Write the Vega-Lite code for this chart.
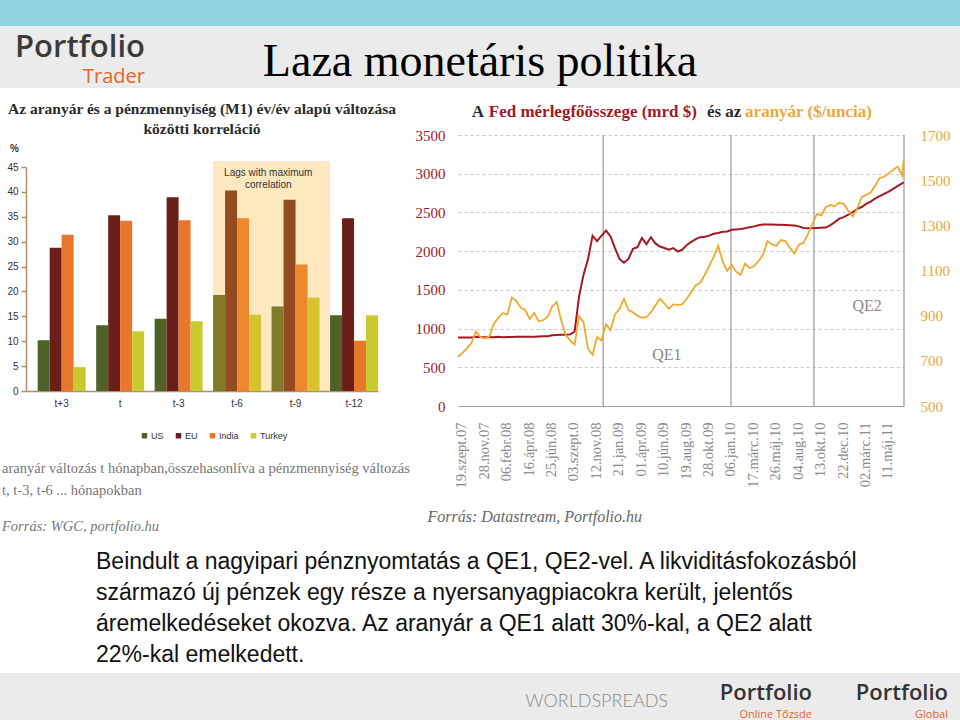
{
  "$schema": "https://vega.github.io/schema/vega-lite/v6.json",
  "padding": 0,
  "spacing": 0,
  "background": "white",
  "resolve": {"scale": {"color": "independent"}},
  "config": {
    "view": {"stroke": null},
    "font": "Liberation Sans",
    "axis": {"labelFont": "Liberation Sans", "titleFont": "Liberation Sans"}
  },
  "vconcat": [
    {
      "width": 960, "height": 26,
      "data": {"values": [{}]},
      "mark": {"type": "point", "opacity": 0},
      "view": {"fill": "#8dd4df", "stroke": null}
    },
    {
      "spacing": 0, "bounds": "flush",
      "hconcat": [
        {
          "width": 145, "height": 62,
          "data": {"values": [{}]},
          "mark": {"type": "point", "opacity": 0},
          "view": {"fill": "#ebebeb", "stroke": null},
          "title": {"text": "Portfolio", "subtitle": "Trader", "orient": "top", "anchor": "end", "frame": "group", "offset": -62, "font": "Open Sans", "fontSize": 31, "fontWeight": 600, "color": "#3a3a3a", "subtitleFont": "Open Sans", "subtitleFontSize": 20, "subtitleColor": "#e2662f", "subtitlePadding": 3}
        },
        {
          "width": 670, "height": 62,
          "data": {"values": [{}]},
          "mark": {"type": "point", "opacity": 0},
          "view": {"fill": "#ebebeb", "stroke": null},
          "title": {"text": "Laza monetáris politika", "orient": "top", "anchor": "middle", "frame": "group", "offset": -60, "font": "Liberation Serif", "fontSize": 46, "fontWeight": "normal", "color": "#000000"}
        },
        {
          "width": 145, "height": 62,
          "data": {"values": [{}]},
          "mark": {"type": "point", "opacity": 0},
          "view": {"fill": "#ebebeb", "stroke": null}
        }
      ]
    },
    {
      "spacing": 0, "bounds": "flush",
      "resolve": {"scale": {"color": "independent"}},
      "hconcat": [
        {
          "width": 26, "height": 452,
          "data": {"values": [{}]},
          "mark": {"type": "point", "opacity": 0},
          "title": {"text": ["aranyár változás t hónapban,összehasonlíva a pénzmennyiség változás", "t, t-3, t-6 ... hónapokban"], "subtitle": "Forrás: WGC, portfolio.hu", "orient": "top", "anchor": "start", "frame": "group", "offset": -443, "dx": 2, "font": "Liberation Serif", "fontSize": 14.5, "fontWeight": "normal", "color": "#777777", "lineHeight": 22, "subtitleFont": "Liberation Serif", "subtitleFontSize": 14.5, "subtitleFontStyle": "italic", "subtitleColor": "#777777", "subtitlePadding": 21}
        },
        {
          "width": 352, "height": 300,
          "title": {"text": ["Az aranyár és a pénzmennyiség (M1) év/év alapú változása", "közötti korreláció"], "orient": "top", "anchor": "middle", "frame": "group", "offset": -46, "font": "Liberation Serif", "fontSize": 15.5, "fontWeight": "bold", "color": "#2b2b2b", "lineHeight": 20},
          "data": {"values": [
            {"lag": "t+3", "country": "US", "value": 10.2}, {"lag": "t+3", "country": "EU", "value": 28.8}, {"lag": "t+3", "country": "India", "value": 31.4}, {"lag": "t+3", "country": "Turkey", "value": 4.8},
            {"lag": "t", "country": "US", "value": 13.2}, {"lag": "t", "country": "EU", "value": 35.3}, {"lag": "t", "country": "India", "value": 34.2}, {"lag": "t", "country": "Turkey", "value": 12.0},
            {"lag": "t-3", "country": "US", "value": 14.5}, {"lag": "t-3", "country": "EU", "value": 38.9}, {"lag": "t-3", "country": "India", "value": 34.3}, {"lag": "t-3", "country": "Turkey", "value": 14.0},
            {"lag": "t-6", "country": "US", "value": 19.3}, {"lag": "t-6", "country": "EU", "value": 40.3}, {"lag": "t-6", "country": "India", "value": 34.7}, {"lag": "t-6", "country": "Turkey", "value": 15.3},
            {"lag": "t-9", "country": "US", "value": 17.0}, {"lag": "t-9", "country": "EU", "value": 38.4}, {"lag": "t-9", "country": "India", "value": 25.4}, {"lag": "t-9", "country": "Turkey", "value": 18.8},
            {"lag": "t-12", "country": "US", "value": 15.2}, {"lag": "t-12", "country": "EU", "value": 34.7}, {"lag": "t-12", "country": "India", "value": 10.1}, {"lag": "t-12", "country": "Turkey", "value": 15.2}
          ]},
          "encoding": {
            "x": {"field": "lag", "type": "nominal", "sort": ["t+3", "t", "t-3", "t-6", "t-9", "t-12"],
              "scale": {"paddingInner": 0.18, "paddingOuter": 0.1, "align": 1},
              "axis": {"title": null, "labelAngle": 0, "ticks": false, "labelFontSize": 10, "labelColor": "#333333", "labelPadding": 7, "domainColor": "#b58e6a", "domainWidth": 1.5}}
          },
          "layer": [
            {
              "mark": {"type": "bar"},
              "encoding": {
                "xOffset": {"field": "country", "type": "nominal", "sort": ["US", "EU", "India", "Turkey"]},
                "y": {"field": "value", "type": "quantitative", "scale": {"domain": [0, 45], "range": [300, 76]},
                  "axis": {"values": [0, 5, 10, 15, 20, 25, 30, 35, 40, 45], "labelOverlap": false, "grid": false, "title": "%", "titleAngle": 0, "titleX": -12, "titleY": 60, "titleAlign": "center", "titleBaseline": "alphabetic", "titleFontSize": 10, "titleFontWeight": "bold", "titleColor": "#333333", "labelFontSize": 10, "labelColor": "#333333", "labelPadding": 3, "tickColor": "#b58e6a", "tickSize": 5, "tickWidth": 1.5, "domainColor": "#b58e6a", "domainWidth": 1.5}},
                "color": {"field": "country", "type": "nominal",
                  "scale": {"domain": ["US", "EU", "India", "Turkey"], "range": ["#4e6228", "#6a1f1b", "#e8762b", "#c8cb2e"]},
                  "legend": {"orient": "none", "legendX": 114, "legendY": 340, "direction": "horizontal", "title": null, "symbolType": "square", "symbolSize": 30, "labelFontSize": 9, "labelColor": "#333333", "labelOffset": 2, "columnPadding": 10}}
              }
            },
            {
              "data": {"values": [{}]},
              "mark": {"type": "rect", "color": "#f8b22d", "opacity": 0.3},
              "encoding": {
                "x": {"datum": "t-6", "type": "nominal", "bandPosition": 0},
                "x2": {"datum": "t-12", "bandPosition": 0},
                "y": {"datum": 46.2, "type": "quantitative",
                  "axis": {"values": [0, 5, 10, 15, 20, 25, 30, 35, 40, 45], "labelOverlap": false, "grid": false, "title": "%", "titleAngle": 0, "titleX": -12, "titleY": 60, "titleAlign": "center", "titleBaseline": "alphabetic", "titleFontSize": 10, "titleFontWeight": "bold", "titleColor": "#333333", "labelFontSize": 10, "labelColor": "#333333", "labelPadding": 3, "tickColor": "#b58e6a", "tickSize": 5, "tickWidth": 1.5, "domainColor": "#b58e6a", "domainWidth": 1.5}},
                "y2": {"datum": 0}
              }
            },
            {
              "data": {"values": [{}]},
              "mark": {"type": "text", "text": ["Lags with maximum", "correlation"], "font": "Liberation Sans", "fontSize": 10, "color": "#333333", "align": "center", "baseline": "top", "lineHeight": 12},
              "encoding": {
                "x": {"datum": "t-6", "type": "nominal", "bandPosition": 1.15},
                "y": {"datum": 44.8, "type": "quantitative",
                  "axis": {"values": [0, 5, 10, 15, 20, 25, 30, 35, 40, 45], "labelOverlap": false, "grid": false, "title": "%", "titleAngle": 0, "titleX": -12, "titleY": 60, "titleAlign": "center", "titleBaseline": "alphabetic", "titleFontSize": 10, "titleFontWeight": "bold", "titleColor": "#333333", "labelFontSize": 10, "labelColor": "#333333", "labelPadding": 3, "tickColor": "#b58e6a", "tickSize": 5, "tickWidth": 1.5, "domainColor": "#b58e6a", "domainWidth": 1.5}}
              }
            }
          ]
        },
        {
          "width": 80, "height": 1,
          "data": {"values": [{}]},
          "mark": {"type": "point", "opacity": 0}
        },
        {
          "width": 446, "height": 315,
          "data": {"values": [
            {"d": "2007-09-07", "fed": 885, "gold": 718}, {"d": "2007-09-21", "fed": 885, "gold": 735}, {"d": "2007-10-05", "fed": 885, "gold": 755}, {"d": "2007-10-19", "fed": 885, "gold": 780},
            {"d": "2007-11-02", "fed": 895, "gold": 830}, {"d": "2007-11-16", "fed": 890, "gold": 805}, {"d": "2007-11-30", "fed": 888, "gold": 800}, {"d": "2007-12-14", "fed": 890, "gold": 808},
            {"d": "2007-12-28", "fed": 888, "gold": 865}, {"d": "2008-01-11", "fed": 895, "gold": 890}, {"d": "2008-01-25", "fed": 888, "gold": 912}, {"d": "2008-02-08", "fed": 890, "gold": 905},
            {"d": "2008-02-22", "fed": 892, "gold": 980}, {"d": "2008-03-07", "fed": 893, "gold": 965}, {"d": "2008-03-21", "fed": 893, "gold": 935}, {"d": "2008-04-04", "fed": 895, "gold": 925},
            {"d": "2008-04-18", "fed": 893, "gold": 885}, {"d": "2008-05-02", "fed": 895, "gold": 912}, {"d": "2008-05-16", "fed": 897, "gold": 875}, {"d": "2008-05-30", "fed": 900, "gold": 880},
            {"d": "2008-06-13", "fed": 902, "gold": 895}, {"d": "2008-06-27", "fed": 915, "gold": 940}, {"d": "2008-07-11", "fed": 918, "gold": 960}, {"d": "2008-07-25", "fed": 920, "gold": 880},
            {"d": "2008-08-08", "fed": 920, "gold": 815}, {"d": "2008-08-22", "fed": 925, "gold": 790}, {"d": "2008-09-05", "fed": 960, "gold": 772}, {"d": "2008-09-19", "fed": 1420, "gold": 898},
            {"d": "2008-10-03", "fed": 1700, "gold": 870}, {"d": "2008-10-17", "fed": 1900, "gold": 752}, {"d": "2008-10-31", "fed": 2200, "gold": 727}, {"d": "2008-11-14", "fed": 2130, "gold": 805},
            {"d": "2008-11-28", "fed": 2200, "gold": 790}, {"d": "2008-12-12", "fed": 2265, "gold": 862}, {"d": "2008-12-26", "fed": 2190, "gold": 835}, {"d": "2009-01-09", "fed": 2040, "gold": 905},
            {"d": "2009-01-23", "fed": 1900, "gold": 930}, {"d": "2009-02-06", "fed": 1850, "gold": 975}, {"d": "2009-02-20", "fed": 1900, "gold": 925}, {"d": "2009-03-06", "fed": 2030, "gold": 915},
            {"d": "2009-03-20", "fed": 2050, "gold": 900}, {"d": "2009-04-03", "fed": 2170, "gold": 890}, {"d": "2009-04-17", "fed": 2090, "gold": 893}, {"d": "2009-05-01", "fed": 2180, "gold": 915},
            {"d": "2009-05-15", "fed": 2100, "gold": 945}, {"d": "2009-05-29", "fed": 2060, "gold": 975}, {"d": "2009-06-12", "fed": 2040, "gold": 955}, {"d": "2009-06-26", "fed": 2020, "gold": 930},
            {"d": "2009-07-10", "fed": 2040, "gold": 950}, {"d": "2009-07-24", "fed": 1995, "gold": 948}, {"d": "2009-08-07", "fed": 2020, "gold": 950}, {"d": "2009-08-21", "fed": 2080, "gold": 975},
            {"d": "2009-09-04", "fed": 2120, "gold": 1005}, {"d": "2009-09-18", "fed": 2155, "gold": 1035}, {"d": "2009-10-02", "fed": 2180, "gold": 1045}, {"d": "2009-10-16", "fed": 2185, "gold": 1080},
            {"d": "2009-10-30", "fed": 2200, "gold": 1120}, {"d": "2009-11-13", "fed": 2225, "gold": 1160}, {"d": "2009-11-27", "fed": 2235, "gold": 1210}, {"d": "2009-12-11", "fed": 2250, "gold": 1140},
            {"d": "2009-12-25", "fed": 2255, "gold": 1098}, {"d": "2010-01-08", "fed": 2275, "gold": 1125}, {"d": "2010-01-22", "fed": 2280, "gold": 1095}, {"d": "2010-02-05", "fed": 2285, "gold": 1081},
            {"d": "2010-02-19", "fed": 2295, "gold": 1130}, {"d": "2010-03-05", "fed": 2310, "gold": 1110}, {"d": "2010-03-19", "fed": 2320, "gold": 1120}, {"d": "2010-04-02", "fed": 2335, "gold": 1142},
            {"d": "2010-04-16", "fed": 2345, "gold": 1170}, {"d": "2010-04-30", "fed": 2345, "gold": 1230}, {"d": "2010-05-14", "fed": 2345, "gold": 1215}, {"d": "2010-05-28", "fed": 2342, "gold": 1210},
            {"d": "2010-06-11", "fed": 2340, "gold": 1235}, {"d": "2010-06-25", "fed": 2338, "gold": 1230}, {"d": "2010-07-09", "fed": 2335, "gold": 1200}, {"d": "2010-07-23", "fed": 2330, "gold": 1175},
            {"d": "2010-08-06", "fed": 2320, "gold": 1215}, {"d": "2010-08-20", "fed": 2300, "gold": 1222}, {"d": "2010-09-03", "fed": 2295, "gold": 1260}, {"d": "2010-09-17", "fed": 2295, "gold": 1305},
            {"d": "2010-10-01", "fed": 2300, "gold": 1350}, {"d": "2010-10-15", "fed": 2303, "gold": 1345}, {"d": "2010-10-29", "fed": 2305, "gold": 1380}, {"d": "2010-11-12", "fed": 2335, "gold": 1390},
            {"d": "2010-11-26", "fed": 2375, "gold": 1385}, {"d": "2010-12-10", "fed": 2420, "gold": 1400}, {"d": "2010-12-24", "fed": 2440, "gold": 1395}, {"d": "2011-01-07", "fed": 2470, "gold": 1365},
            {"d": "2011-01-21", "fed": 2505, "gold": 1340}, {"d": "2011-02-04", "fed": 2545, "gold": 1375}, {"d": "2011-02-18", "fed": 2570, "gold": 1425}, {"d": "2011-03-04", "fed": 2610, "gold": 1435},
            {"d": "2011-03-18", "fed": 2640, "gold": 1445}, {"d": "2011-04-01", "fed": 2680, "gold": 1475}, {"d": "2011-04-15", "fed": 2710, "gold": 1510}, {"d": "2011-04-29", "fed": 2740, "gold": 1515},
            {"d": "2011-05-13", "fed": 2770, "gold": 1530}, {"d": "2011-05-27", "fed": 2805, "gold": 1545}, {"d": "2011-06-10", "fed": 2840, "gold": 1560}, {"d": "2011-06-24", "fed": 2875, "gold": 1520},
            {"d": "2011-06-29", "fed": 2890, "gold": 1590}
          ]},
          "encoding": {
            "x": {"field": "d", "type": "temporal",
              "scale": {"domain": [{"year": 2007, "month": 9, "date": 7}, {"year": 2011, "month": 6, "date": 30}]},
              "axis": {
                "values": [
                  {"year": 2007, "month": 9, "date": 19}, {"year": 2007, "month": 11, "date": 28}, {"year": 2008, "month": 2, "date": 6}, {"year": 2008, "month": 4, "date": 16},
                  {"year": 2008, "month": 6, "date": 25}, {"year": 2008, "month": 9, "date": 3}, {"year": 2008, "month": 11, "date": 12}, {"year": 2009, "month": 1, "date": 21},
                  {"year": 2009, "month": 4, "date": 1}, {"year": 2009, "month": 6, "date": 10}, {"year": 2009, "month": 8, "date": 19}, {"year": 2009, "month": 10, "date": 28},
                  {"year": 2010, "month": 1, "date": 6}, {"year": 2010, "month": 3, "date": 17}, {"year": 2010, "month": 5, "date": 26}, {"year": 2010, "month": 8, "date": 4},
                  {"year": 2010, "month": 10, "date": 13}, {"year": 2010, "month": 12, "date": 22}, {"year": 2011, "month": 3, "date": 2}, {"year": 2011, "month": 5, "date": 11}
                ],
                "labelExpr": "replace(timeFormat(datum.value, '%d') + '.' + ['jan','febr','márc','ápr','máj','jún','júl','aug','szept','okt','nov','dec'][month(datum.value)] + '.' + timeFormat(datum.value, '%y'), '03.szept.08', '03.szept.0')",
                "labelAngle": -90, "labelAlign": "right", "labelBaseline": "middle", "labelPadding": 16,
                "labelFont": "Liberation Serif", "labelFontSize": 14.5, "labelColor": "#8a8a8a", "labelOverlap": false, "labelFlush": false,
                "ticks": false, "grid": false, "domainColor": "#a0a0a0", "domainWidth": 1.2,
                "title": "Forrás: Datastream, Portfolio.hu", "titleFont": "Liberation Serif", "titleFontStyle": "italic", "titleFontWeight": "normal", "titleFontSize": 16, "titleColor": "#666666",
                "titleAnchor": "start", "titleAlign": "left", "titleX": -31, "titleY": 115, "titleBaseline": "alphabetic"
              }
            }
          },
          "layer": [
            {
              "data": {"values": [{"d": "2008-12-03"}, {"d": "2010-01-06"}, {"d": "2010-09-22"}, {"d": "2011-06-30"}]},
              "mark": {"type": "rule", "color": "#9a9a9a", "strokeWidth": 1.2},
              "encoding": {
                "y": {"datum": 0, "type": "quantitative", "scale": {"domain": [0, 3500], "range": [315, 44]}, "axis": null},
                "y2": {"datum": 3500}
              }
            },
            {
              "mark": {"type": "line", "color": "#a3191f", "strokeWidth": 2},
              "encoding": {
                "y": {"field": "fed", "type": "quantitative", "scale": {"domain": [0, 3500], "range": [315, 44]},
                  "axis": {"orient": "left", "values": [0, 500, 1000, 1500, 2000, 2500, 3000, 3500], "format": "d", "title": null, "ticks": false, "domain": false,
                    "grid": true, "gridDash": [3, 3], "gridColor": "#c8c8c8", "labelFont": "Liberation Serif", "labelFontSize": 15, "labelColor": "#9e1b22", "labelPadding": 13}}
              }
            },
            {
              "mark": {"type": "line", "color": "#f0a92c", "strokeWidth": 1.8},
              "encoding": {
                "y": {"field": "gold", "type": "quantitative", "scale": {"domain": [500, 1700], "range": [315, 44]},
                  "axis": {"orient": "right", "values": [500, 700, 900, 1100, 1300, 1500, 1700], "format": "d", "title": null, "ticks": false, "domain": false,
                    "grid": false, "labelFont": "Liberation Serif", "labelFontSize": 15, "labelColor": "#e9a83a", "labelPadding": 16}}
              }
            },
            {
              "data": {"values": [{"d": "2009-06-20"}]},
              "mark": {"type": "text", "text": "QE1", "font": "Liberation Serif", "fontSize": 16, "color": "#888888", "align": "center", "baseline": "middle"},
              "encoding": {
                "y": {"datum": 659, "type": "quantitative", "scale": {"domain": [0, 3500], "range": [315, 44]}, "axis": null}
              }
            },
            {
              "data": {"values": [{"d": "2011-03-07"}]},
              "mark": {"type": "text", "text": "QE2", "font": "Liberation Serif", "fontSize": 16, "color": "#888888", "align": "center", "baseline": "middle"},
              "encoding": {
                "y": {"datum": 1291, "type": "quantitative", "scale": {"domain": [0, 3500], "range": [315, 44]}, "axis": null}
              }
            },
            {
              "data": {"values": [{"d": "2007-10-20"}]},
              "mark": {"type": "text", "text": "A", "font": "Liberation Serif", "fontSize": 17, "fontWeight": "bold", "color": "#2b2b2b", "align": "left", "baseline": "alphabetic"},
              "encoding": {
                "y": {"datum": 3733, "type": "quantitative", "scale": {"domain": [0, 3500], "range": [315, 44]}, "axis": null}
              }
            },
            {
              "data": {"values": [{"d": "2007-12-12"}]},
              "mark": {"type": "text", "text": "Fed mérlegfőösszege (mrd $)", "font": "Liberation Serif", "fontSize": 17, "fontWeight": "bold", "color": "#a3191f", "align": "left", "baseline": "alphabetic"},
              "encoding": {
                "y": {"datum": 3733, "type": "quantitative", "scale": {"domain": [0, 3500], "range": [315, 44]}, "axis": null}
              }
            },
            {
              "data": {"values": [{"d": "2009-10-23"}]},
              "mark": {"type": "text", "text": "és az", "font": "Liberation Serif", "fontSize": 17, "fontWeight": "bold", "color": "#2b2b2b", "align": "left", "baseline": "alphabetic"},
              "encoding": {
                "y": {"datum": 3733, "type": "quantitative", "scale": {"domain": [0, 3500], "range": [315, 44]}, "axis": null}
              }
            },
            {
              "data": {"values": [{"d": "2010-02-19"}]},
              "mark": {"type": "text", "text": "aranyár ($/uncia)", "font": "Liberation Serif", "fontSize": 17, "fontWeight": "bold", "color": "#eea93a", "align": "left", "baseline": "alphabetic"},
              "encoding": {
                "y": {"datum": 3733, "type": "quantitative", "scale": {"domain": [0, 3500], "range": [315, 44]}, "axis": null}
              }
            }
          ],
          "resolve": {"scale": {"y": "independent"}}
        }
      ]
    },
    {
      "width": 960, "height": 130,
      "data": {"values": [{}]},
      "mark": {"type": "point", "opacity": 0},
      "title": {"text": ["Beindult a nagyipari pénznyomtatás a QE1, QE2-vel. A likviditásfokozásból", "származó új pénzek egy része a nyersanyagpiacokra került, jelentős", "áremelkedéseket okozva. Az aranyár a QE1 alatt 30%-kal, a QE2 alatt", "22%-kal emelkedett."], "orient": "top", "anchor": "start", "frame": "group", "offset": -124, "dx": 96, "font": "Liberation Sans", "fontSize": 23, "fontWeight": "normal", "color": "#111111", "lineHeight": 31}
    },
    {
      "spacing": 0, "bounds": "flush",
      "hconcat": [
        {
          "width": 670, "height": 50,
          "data": {"values": [{}]},
          "mark": {"type": "point", "opacity": 0},
          "view": {"fill": "#ebebeb", "stroke": null},
          "title": {"text": "WORLDSPREADS", "orient": "top", "anchor": "end", "frame": "group", "offset": -38, "dx": -2, "font": "Lato", "fontSize": 18, "fontWeight": 300, "color": "#8a8a8a"}
        },
        {
          "width": 145, "height": 50,
          "data": {"values": [{}]},
          "mark": {"type": "point", "opacity": 0},
          "view": {"fill": "#ebebeb", "stroke": null},
          "title": {"text": "Portfolio", "subtitle": "Online Tőzsde", "orient": "top", "anchor": "end", "frame": "group", "offset": -48, "dx": -3, "font": "Open Sans", "fontSize": 22, "fontWeight": 600, "color": "#333333", "subtitleFont": "Open Sans", "subtitleFontSize": 11, "subtitleColor": "#e2662f", "subtitlePadding": 4}
        },
        {
          "width": 145, "height": 50,
          "data": {"values": [{}]},
          "mark": {"type": "point", "opacity": 0},
          "view": {"fill": "#ebebeb", "stroke": null},
          "title": {"text": "Portfolio", "subtitle": "Global", "orient": "top", "anchor": "end", "frame": "group", "offset": -48, "dx": -12, "font": "Open Sans", "fontSize": 22, "fontWeight": 600, "color": "#333333", "subtitleFont": "Open Sans", "subtitleFontSize": 11, "subtitleColor": "#e2662f", "subtitlePadding": 4}
        }
      ]
    }
  ]
}
